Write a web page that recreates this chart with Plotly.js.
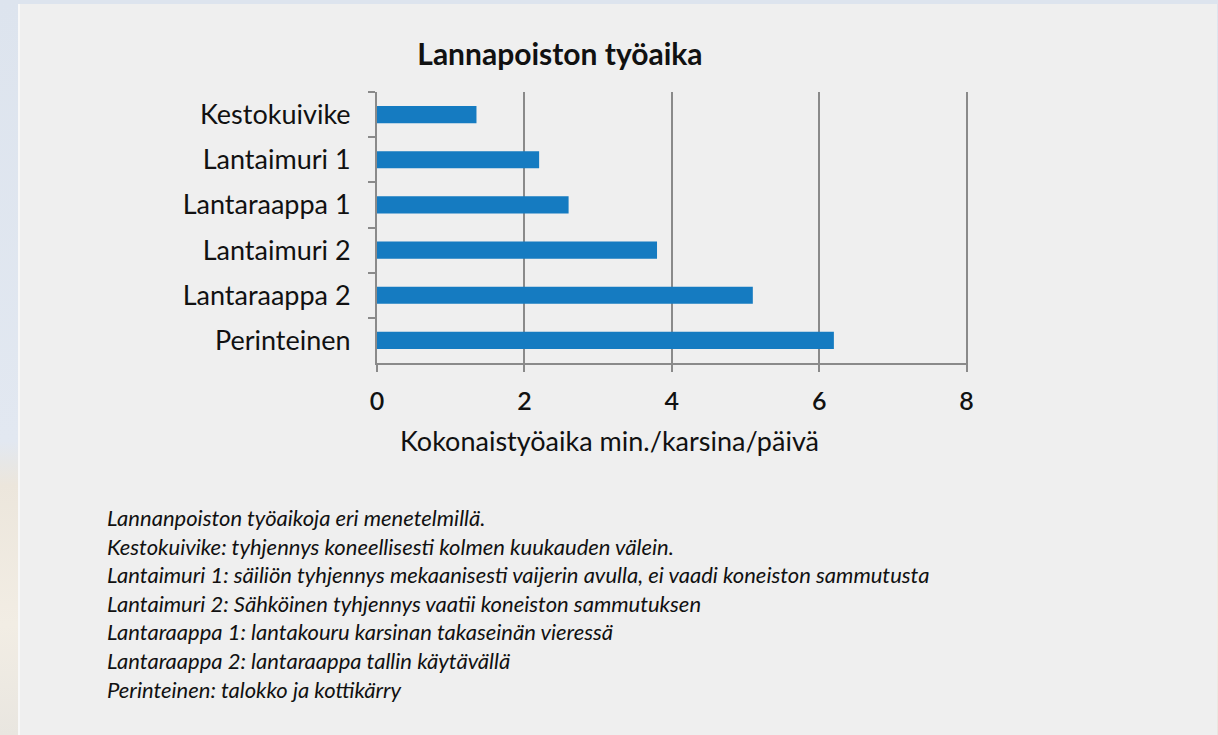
<!DOCTYPE html>
<html>
<head>
<meta charset="utf-8">
<script src="https://cdn.plot.ly/plotly-3.0.1.min.js"></script>
<style>
  html, body { margin: 0; padding: 0; width: 1218px; height: 735px; overflow: hidden; }
  body { background: linear-gradient(to bottom, #dde4ee 0%, #e2e8f1 60%, #ece6dc 66%, #f2ede4 85%, #e9e6e0 100%); position: relative; }
  #panel { position: absolute; left: 18px; top: 4px; width: 1199px; height: 731px; background: #efefef; border-left: 2px solid #f8f8f8; box-sizing: border-box; }
  #chart { position: absolute; left: 18px; top: 4px; width: 1199px; height: 731px; }
</style>
</head>
<body>
<div id="panel"></div>
<div id="chart"></div>
<script>
// ---- data ----
const categories = ["Kestokuivike", "Lantaimuri 1", "Lantaraappa 1", "Lantaimuri 2", "Lantaraappa 2", "Perinteinen"];
const values = [1.35, 2.2, 2.6, 3.8, 5.1, 6.2];
const xTicks = [0, 2, 4, 6, 8];
const chartTitle = "Lannapoiston työaika";
const xAxisTitle = "Kokonaistyöaika min./karsina/päivä";
const notes = [
  "Lannanpoiston työaikoja eri menetelmillä.",
  "Kestokuivike: tyhjennys koneellisesti kolmen kuukauden välein.",
  "Lantaimuri 1: säiliön tyhjennys mekaanisesti vaijerin avulla, ei vaadi koneiston sammutusta",
  "Lantaimuri 2: Sähköinen tyhjennys vaatii koneiston sammutuksen",
  "Lantaraappa 1: lantakouru karsinan takaseinän vieressä",
  "Lantaraappa 2: lantaraappa tallin käytävällä",
  "Perinteinen: talokko ja kottikärry"
];

const FONT = "Lato, 'Open Sans', 'Liberation Sans', sans-serif";
const AXIS = "#8a8a8a";

const trace = {
  type: "bar",
  orientation: "h",
  x: values,
  y: categories,
  marker: { color: "#157bc1", line: { width: 0 } },
  hoverinfo: "x+y"
};

const layout = {
  width: 1199,
  height: 731,
  paper_bgcolor: "rgba(0,0,0,0)",
  plot_bgcolor: "rgba(0,0,0,0)",
  margin: { l: 359, r: 249, t: 88, b: 372 },
  showlegend: false,
  bargap: 0.62,
  font: { family: FONT, color: "#111111" },
  title: {
    text: "<b>" + chartTitle + "</b>",
    font: { family: FONT, size: 30, color: "#111111" },
    xref: "container", yref: "container",
    x: 0.452, y: 0.931, xanchor: "center", yanchor: "middle"
  },
  xaxis: {
    range: [0, 8.02],
    tickvals: xTicks,
    ticktext: xTicks.map(String),
    showgrid: true, gridcolor: AXIS, gridwidth: 2,
    zeroline: false,
    showline: true, linecolor: AXIS, linewidth: 2,
    ticks: "outside", ticklen: 7, tickwidth: 2, tickcolor: AXIS,
    ticklabelstandoff: 8,
    tickfont: { family: FONT, size: 25, color: "#111111", weight: 600 },
    fixedrange: true
  },
  yaxis: {
    type: "category",
    categoryorder: "array",
    categoryarray: categories,
    autorange: "reversed",
    showgrid: false, zeroline: false,
    showline: true, linecolor: AXIS, linewidth: 2,
    ticks: "outside", tickson: "boundaries", ticklen: 7, tickwidth: 2, tickcolor: AXIS,
    ticklabelstandoff: 19,
    tickfont: { family: FONT, size: 27, color: "#111111" },
    fixedrange: true
  },
  annotations: [
    {
      text: xAxisTitle,
      xref: "paper", yref: "paper",
      x: 0.3926, y: -0.286,
      xanchor: "center", yanchor: "middle",
      showarrow: false,
      font: { family: FONT, size: 27, color: "#111111" }
    },
    {
      text: notes.map(s => "<i>" + s + "</i>").join("<br>"),
      xref: "paper", yref: "paper",
      x: -0.4603, y: -0.5116,
      xanchor: "left", yanchor: "top",
      align: "left",
      showarrow: false,
      font: { family: FONT, size: 22, color: "#111111" }
    }
  ]
};

Plotly.newPlot("chart", [trace], layout, { displayModeBar: false, staticPlot: true });
</script>
</body>
</html>
